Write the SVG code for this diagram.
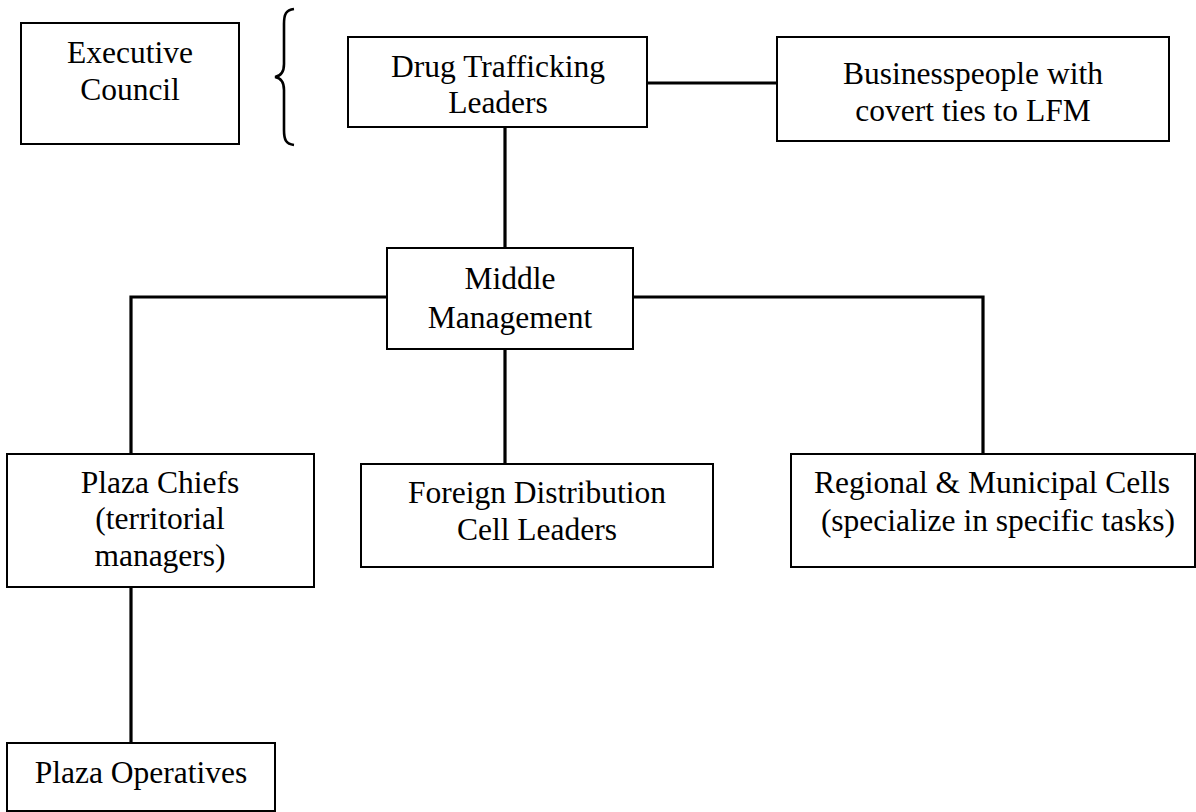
<svg xmlns="http://www.w3.org/2000/svg" width="1196" height="812" viewBox="0 0 1196 812">
<style>
.box{fill:#fff;stroke:#000;stroke-width:2}
.t{font-family:"Liberation Serif","Times New Roman",serif;font-size:31.5px;fill:#000;text-anchor:middle}
.c{stroke:#000;stroke-width:3.2;fill:none;stroke-linecap:square}
</style>
<rect width="1196" height="812" fill="#fff"/>
<g id="connectors">
<line class="c" x1="647" y1="83" x2="777" y2="83"/>
<line class="c" x1="505" y1="127" x2="505" y2="248"/>
<polyline class="c" points="387,297 131,297 131,454"/>
<polyline class="c" points="633,297 983,297 983,454"/>
<line class="c" x1="505" y1="349" x2="505" y2="464"/>
<line class="c" x1="131" y1="587" x2="131" y2="743"/>
</g>
<g id="brace">
<path d="M294,9 C286,10 284,14 284,24 L284,64 C284,72 281,76 275,77 C281,78 284,82 284,90 L284,130 C284,140 286,144 294,145" fill="none" stroke="#000" stroke-width="2.6"/>
</g>
<g id="executive-council">
<rect class="box" x="21" y="23" width="218" height="121"/>
<text class="t" x="130" y="63">Executive</text>
<text class="t" x="130" y="100">Council</text>
</g>
<g id="drug-trafficking-leaders">
<rect class="box" x="348" y="37" width="299" height="90"/>
<text class="t" x="498" y="77">Drug Trafficking</text>
<text class="t" x="498" y="113">Leaders</text>
</g>
<g id="businesspeople">
<rect class="box" x="777" y="37" width="392" height="104"/>
<text class="t" x="973" y="84">Businesspeople with</text>
<text class="t" x="973" y="121">covert ties to LFM</text>
</g>
<g id="middle-management">
<rect class="box" x="387" y="248" width="246" height="101"/>
<text class="t" x="510" y="289">Middle</text>
<text class="t" x="510" y="328">Management</text>
</g>
<g id="plaza-chiefs">
<rect class="box" x="7" y="454" width="307" height="133"/>
<text class="t" x="160" y="493">Plaza Chiefs</text>
<text class="t" x="160" y="529">(territorial</text>
<text class="t" x="160" y="566">managers)</text>
</g>
<g id="foreign-distribution">
<rect class="box" x="361" y="464" width="352" height="103"/>
<text class="t" x="537" y="503">Foreign Distribution</text>
<text class="t" x="537" y="540">Cell Leaders</text>
</g>
<g id="regional-municipal">
<rect class="box" x="791" y="454" width="404" height="113"/>
<text class="t" x="992" y="493">Regional &amp; Municipal Cells</text>
<text class="t" x="998" y="531">(specialize in specific tasks)</text>
</g>
<g id="plaza-operatives">
<rect class="box" x="7" y="743" width="268" height="68"/>
<text class="t" x="141" y="783">Plaza Operatives</text>
</g>
</svg>
